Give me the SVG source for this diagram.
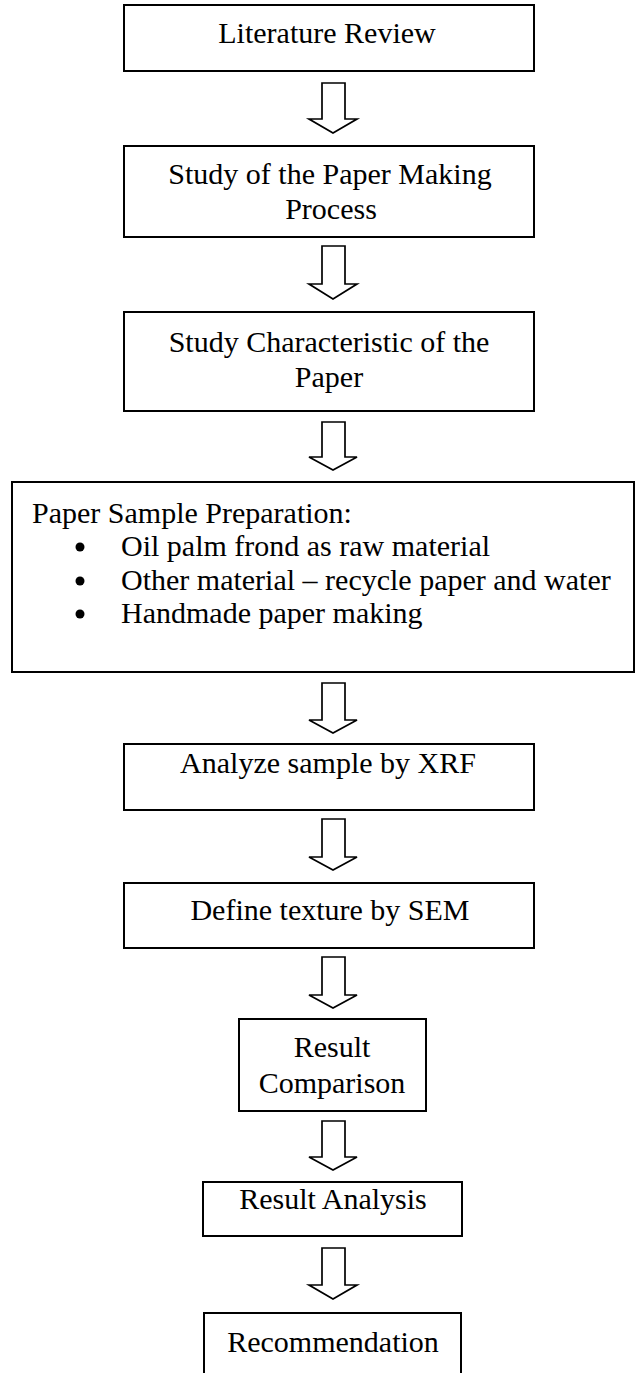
<svg xmlns="http://www.w3.org/2000/svg" width="636" height="1373" viewBox="0 0 636 1373">
<defs>
<style>
.box{fill:#fff;stroke:#000;stroke-width:2}
.t{font-family:"Liberation Serif","Times New Roman",serif;font-size:30px;fill:#000}
.c{text-anchor:middle}
.arr{fill:#fff;stroke:#000;stroke-width:1.7;stroke-linejoin:miter}
</style>
</defs>
<rect width="636" height="1373" fill="#fff"/>
<g id="connectors">
<path class="arr" d="M322,83 H345 V119 H357 L333,133 L309,119 H322 Z"/>
<path class="arr" d="M322,246 H345 V284 H357 L333,299 L309,284 H322 Z"/>
<path class="arr" d="M322,422 H345 V457 H357 L333,470 L309,457 H322 Z"/>
<path class="arr" d="M322,683 H345 V720 H357 L333,733 L309,720 H322 Z"/>
<path class="arr" d="M322,819 H345 V857 H357 L333,870 L309,857 H322 Z"/>
<path class="arr" d="M322,957 H345 V995 H357 L333,1008 L309,995 H322 Z"/>
<path class="arr" d="M322,1121 H345 V1157 H357 L333,1170 L309,1157 H322 Z"/>
<path class="arr" d="M322,1248 H345 V1285 H357 L333,1299 L309,1285 H322 Z"/>
</g>
<g id="n1">
<rect class="box" x="124" y="5" width="410" height="66"/>
<text class="t c" x="327" y="43">Literature Review</text>
</g>
<g id="n2">
<rect class="box" x="124" y="146" width="410" height="91"/>
<text class="t c" x="330" y="184">Study of the Paper Making</text>
<text class="t c" x="331" y="219">Process</text>
</g>
<g id="n3">
<rect class="box" x="124" y="312" width="410" height="99"/>
<text class="t c" x="329" y="352">Study Characteristic of the</text>
<text class="t c" x="329" y="387">Paper</text>
</g>
<g id="n4">
<rect class="box" x="12" y="482" width="622" height="190"/>
<text class="t" x="32" y="523">Paper Sample Preparation:</text>
<circle cx="80" cy="547" r="4.5"/>
<text class="t" x="121" y="556">Oil palm frond as raw material</text>
<circle cx="80" cy="581" r="4.5"/>
<text class="t" x="121" y="590">Other material – recycle paper and water</text>
<circle cx="80" cy="614" r="4.5"/>
<text class="t" x="121" y="623">Handmade paper making</text>
</g>
<g id="n5">
<rect class="box" x="124" y="744" width="410" height="66"/>
<text class="t c" x="328" y="773">Analyze sample by XRF</text>
</g>
<g id="n6">
<rect class="box" x="124" y="883" width="410" height="65"/>
<text class="t c" x="330" y="920">Define texture by SEM</text>
</g>
<g id="n7">
<rect class="box" x="239" y="1019" width="187" height="92"/>
<text class="t c" x="332" y="1057">Result</text>
<text class="t c" x="332" y="1093">Comparison</text>
</g>
<g id="n8">
<rect class="box" x="203" y="1182" width="259" height="54"/>
<text class="t c" x="333" y="1209">Result Analysis</text>
</g>
<g id="n9">
<path class="box" d="M204,1374 V1313 H461 V1374"/>
<text class="t c" x="333" y="1352">Recommendation</text>
</g>
</svg>
